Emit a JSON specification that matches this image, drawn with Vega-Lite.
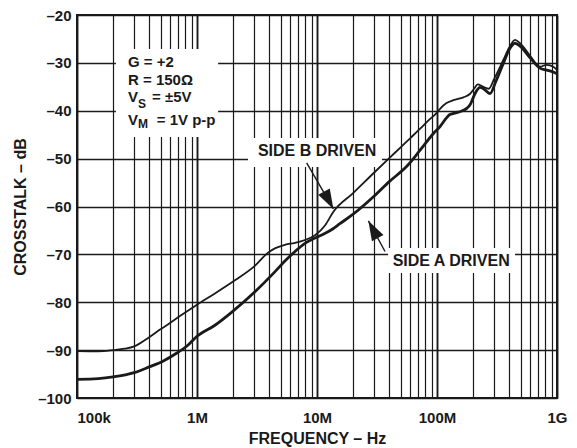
{
  "$schema": "https://vega.github.io/schema/vega-lite/v6.json",
  "width": 480,
  "height": 383,
  "autosize": {"type": "none"},
  "padding": {"left": 77, "top": 15, "right": 20, "bottom": 50},
  "background": "white",
  "config": {
    "view": {"stroke": "#1a1a1a", "strokeWidth": 2},
    "font": "Liberation Sans"
  },
  "datasets": {
    "curves": [
      {"side": "B", "f": 100000, "db": -90.2},
      {"side": "B", "f": 150000, "db": -90.25},
      {"side": "B", "f": 200000, "db": -90.0},
      {"side": "B", "f": 250000, "db": -89.7},
      {"side": "B", "f": 300000, "db": -89.2},
      {"side": "B", "f": 400000, "db": -87.3},
      {"side": "B", "f": 500000, "db": -85.6},
      {"side": "B", "f": 560000, "db": -84.8},
      {"side": "B", "f": 700000, "db": -83.1},
      {"side": "B", "f": 1000000, "db": -80.5},
      {"side": "B", "f": 1400000, "db": -78.2},
      {"side": "B", "f": 2070000, "db": -75.4},
      {"side": "B", "f": 3000000, "db": -72.5},
      {"side": "B", "f": 3930000, "db": -69.6},
      {"side": "B", "f": 4500000, "db": -68.7},
      {"side": "B", "f": 5400000, "db": -68.0},
      {"side": "B", "f": 6560000, "db": -67.6},
      {"side": "B", "f": 7940000, "db": -67.0},
      {"side": "B", "f": 9620000, "db": -66.0},
      {"side": "B", "f": 11700000, "db": -63.9},
      {"side": "B", "f": 13700000, "db": -61.1},
      {"side": "B", "f": 20000000, "db": -57.2},
      {"side": "B", "f": 30000000, "db": -52.9},
      {"side": "B", "f": 40000000, "db": -49.9},
      {"side": "B", "f": 50000000, "db": -47.6},
      {"side": "B", "f": 60000000, "db": -45.7},
      {"side": "B", "f": 72000000, "db": -43.8},
      {"side": "B", "f": 85000000, "db": -42.0},
      {"side": "B", "f": 99000000, "db": -40.5},
      {"side": "B", "f": 106000000, "db": -39.6},
      {"side": "B", "f": 120000000, "db": -38.4},
      {"side": "B", "f": 137000000, "db": -37.8},
      {"side": "B", "f": 166000000, "db": -37.2},
      {"side": "B", "f": 188000000, "db": -36.5},
      {"side": "B", "f": 205000000, "db": -35.3},
      {"side": "B", "f": 218000000, "db": -34.5},
      {"side": "B", "f": 243000000, "db": -35.0},
      {"side": "B", "f": 270000000, "db": -35.4},
      {"side": "B", "f": 300000000, "db": -33.3},
      {"side": "B", "f": 357000000, "db": -29.4},
      {"side": "B", "f": 400000000, "db": -26.8},
      {"side": "B", "f": 447000000, "db": -25.2},
      {"side": "B", "f": 492000000, "db": -25.9},
      {"side": "B", "f": 600000000, "db": -28.6},
      {"side": "B", "f": 721000000, "db": -30.8},
      {"side": "B", "f": 820000000, "db": -30.4},
      {"side": "B", "f": 932000000, "db": -30.8},
      {"side": "B", "f": 1000000000, "db": -31.5},
      {"side": "A", "f": 100000, "db": -96.1},
      {"side": "A", "f": 150000, "db": -95.95},
      {"side": "A", "f": 200000, "db": -95.6},
      {"side": "A", "f": 300000, "db": -94.7},
      {"side": "A", "f": 400000, "db": -93.5},
      {"side": "A", "f": 520000, "db": -92.3},
      {"side": "A", "f": 680000, "db": -90.6},
      {"side": "A", "f": 820000, "db": -89.2},
      {"side": "A", "f": 1000000, "db": -87.1},
      {"side": "A", "f": 1410000, "db": -84.8},
      {"side": "A", "f": 1940000, "db": -82.1},
      {"side": "A", "f": 3040000, "db": -77.8},
      {"side": "A", "f": 4470000, "db": -73.6},
      {"side": "A", "f": 5400000, "db": -71.4},
      {"side": "A", "f": 6560000, "db": -69.4},
      {"side": "A", "f": 7940000, "db": -67.7},
      {"side": "A", "f": 9620000, "db": -66.6},
      {"side": "A", "f": 11700000, "db": -65.6},
      {"side": "A", "f": 13500000, "db": -64.7},
      {"side": "A", "f": 15500000, "db": -63.6},
      {"side": "A", "f": 20000000, "db": -61.6},
      {"side": "A", "f": 30000000, "db": -57.8},
      {"side": "A", "f": 40000000, "db": -54.8},
      {"side": "A", "f": 56000000, "db": -51.6},
      {"side": "A", "f": 72000000, "db": -48.3},
      {"side": "A", "f": 93000000, "db": -44.8},
      {"side": "A", "f": 106000000, "db": -43.3},
      {"side": "A", "f": 120000000, "db": -41.5},
      {"side": "A", "f": 128000000, "db": -40.8},
      {"side": "A", "f": 150000000, "db": -40.3},
      {"side": "A", "f": 177000000, "db": -39.5},
      {"side": "A", "f": 190000000, "db": -38.6},
      {"side": "A", "f": 200000000, "db": -37.3},
      {"side": "A", "f": 214000000, "db": -35.8},
      {"side": "A", "f": 228000000, "db": -35.1},
      {"side": "A", "f": 250000000, "db": -35.6},
      {"side": "A", "f": 277000000, "db": -36.4},
      {"side": "A", "f": 310000000, "db": -33.8},
      {"side": "A", "f": 357000000, "db": -30.1},
      {"side": "A", "f": 400000000, "db": -27.2},
      {"side": "A", "f": 447000000, "db": -25.9},
      {"side": "A", "f": 492000000, "db": -26.5},
      {"side": "A", "f": 600000000, "db": -29.0},
      {"side": "A", "f": 721000000, "db": -31.1},
      {"side": "A", "f": 820000000, "db": -31.5},
      {"side": "A", "f": 932000000, "db": -31.9},
      {"side": "A", "f": 1000000000, "db": -32.3}
    ],
    "boxes": [
      {"f": 211000, "f2": 1500000, "db": -27.1, "db2": -45.5},
      {"f": 2660000, "f2": 34800000, "db": -45.7, "db2": -51.75},
      {"f": 39100000, "f2": 447000000, "db": -68.67, "db2": -73.9}
    ],
    "notes": [
      {"t": "G = +2", "f": 266000, "db": -30.9},
      {"t": "R = 150Ω", "f": 266000, "db": -34.6},
      {"t": "V", "f": 266000, "db": -38.1},
      {"t": "= ±5V", "f": 422000, "db": -38.1},
      {"t": "V", "f": 266000, "db": -43.0},
      {"t": "= 1V p-p", "f": 462000, "db": -43.0}
    ],
    "subs": [
      {"t": "S", "f": 322000, "db": -39.5},
      {"t": "M", "f": 322000, "db": -43.7}
    ],
    "sidelabels": [
      {"t": "SIDE B DRIVEN", "f": 3220000, "db": -49.5},
      {"t": "SIDE A DRIVEN", "f": 42700000, "db": -72.5}
    ],
    "arrows": [
      {"side": "B", "f": 13700000, "db": -60.5, "f2": 8200000, "db2": -50.9},
      {"side": "A", "f": 26800000, "db": -63.0, "f2": 36900000, "db2": -69.4}
    ]
  },
  "encoding": {
    "x": {
      "field": "f",
      "type": "quantitative",
      "scale": {"type": "log", "domain": [100000, 1000000000], "nice": false},
      "axis": {
        "title": "FREQUENCY – Hz",
        "titleFont": "Liberation Sans",
        "titleFontSize": 16,
        "titleFontWeight": "bold",
        "titleColor": "#1a1a1a",
        "titleBaseline": "alphabetic",
        "titleY": 45,
        "values": [100000, 200000, 300000, 400000, 500000, 600000, 700000, 800000, 900000,
                   1000000, 2000000, 3000000, 4000000, 5000000, 6000000, 7000000, 8000000, 9000000,
                   10000000, 20000000, 30000000, 40000000, 50000000, 60000000, 70000000, 80000000, 90000000,
                   100000000, 200000000, 300000000, 400000000, 500000000, 600000000, 700000000, 800000000, 900000000,
                   1000000000],
        "labelExpr": "datum.value == 100000 ? '100k' : datum.value == 1000000 ? '1M' : datum.value == 10000000 ? '10M' : datum.value == 100000000 ? '100M' : datum.value == 1000000000 ? '1G' : ''",
        "labelAlign": {"condition": {"test": "datum.value == 100000", "value": "left"}, "value": "center"},
        "labelFont": "Liberation Sans",
        "labelFontSize": 15,
        "labelFontWeight": "bold",
        "labelColor": "#1a1a1a",
        "labelBaseline": "alphabetic",
        "labelPadding": 24.5,
        "labelOverlap": false,
        "labelBound": false,
        "labelFlush": false,
        "ticks": false,
        "tickSize": 0,
        "domain": false,
        "grid": true,
        "gridColor": "#1a1a1a",
        "gridOpacity": 1,
        "gridWidth": {"condition": {"test": "indexof([100000,1000000,10000000,100000000,1000000000], datum.value) >= 0", "value": 1.9}, "value": 1.2}
      }
    },
    "y": {
      "field": "db",
      "type": "quantitative",
      "scale": {"domain": [-100, -20], "nice": false, "zero": false},
      "axis": {
        "title": "CROSSTALK – dB",
        "titleFont": "Liberation Sans",
        "titleFontSize": 16,
        "titleFontWeight": "bold",
        "titleColor": "#1a1a1a",
        "titleAngle": -90,
        "titleX": -57,
        "titleY": 191.5,
        "titleAlign": "center",
        "titleBaseline": "middle",
        "values": [-100, -90, -80, -70, -60, -50, -40, -30, -20],
        "labelExpr": "'–' + abs(datum.value)",
        "labelFont": "Liberation Sans",
        "labelFontSize": 15,
        "labelFontWeight": "bold",
        "labelColor": "#1a1a1a",
        "labelPadding": 6,
        "labelOverlap": false,
        "labelBound": false,
        "labelFlush": false,
        "ticks": false,
        "tickSize": 0,
        "domain": false,
        "grid": true,
        "gridColor": "#1a1a1a",
        "gridOpacity": 1,
        "gridWidth": 1.5
      }
    }
  },
  "layer": [
    {
      "data": {"name": "boxes"},
      "mark": {"type": "rect", "fill": "white", "stroke": null},
      "encoding": {
        "x2": {"field": "f2"},
        "y2": {"field": "db2"}
      }
    },
    {
      "data": {"name": "curves"},
      "mark": {"type": "line", "color": "#1a1a1a", "interpolate": "monotone"},
      "encoding": {
        "detail": {"field": "side", "type": "nominal"},
        "strokeWidth": {"field": "side", "type": "nominal", "scale": {"domain": ["A", "B"], "range": [2.8, 1.8]}, "legend": null}
      }
    },
    {
      "data": {"name": "notes"},
      "mark": {"type": "text", "align": "left", "baseline": "alphabetic", "font": "Liberation Sans", "fontSize": 15, "fontWeight": "bold", "color": "#1a1a1a"},
      "encoding": {"text": {"field": "t"}}
    },
    {
      "data": {"name": "subs"},
      "mark": {"type": "text", "align": "left", "baseline": "alphabetic", "font": "Liberation Sans", "fontSize": 12, "fontWeight": "bold", "color": "#1a1a1a"},
      "encoding": {"text": {"field": "t"}}
    },
    {
      "data": {"name": "sidelabels"},
      "mark": {"type": "text", "align": "left", "baseline": "alphabetic", "font": "Liberation Sans", "fontSize": 16, "fontWeight": "bold", "color": "#1a1a1a"},
      "encoding": {"text": {"field": "t"}}
    },
    {
      "data": {"name": "arrows"},
      "mark": {"type": "rule", "color": "#1a1a1a", "strokeWidth": 1.4},
      "encoding": {
        "x2": {"field": "f2"},
        "y2": {"field": "db2"}
      }
    },
    {
      "data": {"name": "arrows"},
      "transform": [{"filter": "datum.side == 'B'"}],
      "mark": {"type": "point", "shape": "M0,0 L0.6,1.8 L-0.6,1.8 Z", "filled": true, "fill": "#1a1a1a", "fillOpacity": 1, "opacity": 1, "size": 480, "angle": 151.5, "strokeWidth": 0}
    },
    {
      "data": {"name": "arrows"},
      "transform": [{"filter": "datum.side == 'A'"}],
      "mark": {"type": "point", "shape": "M0,0 L0.6,1.8 L-0.6,1.8 Z", "filled": true, "fill": "#1a1a1a", "fillOpacity": 1, "opacity": 1, "size": 480, "angle": 331.7, "strokeWidth": 0}
    }
  ]
}
